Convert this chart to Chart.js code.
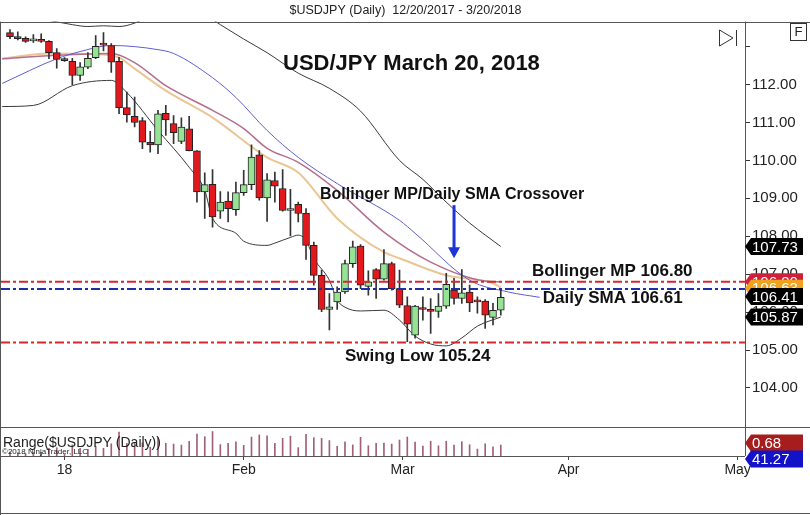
<!DOCTYPE html>
<html lang="en">
<head>
<meta charset="UTF-8">
<title>USD/JPY Daily</title>
<style>
  body { margin: 0; background: #fff; }
  #wrap { width: 810px; height: 515px; }
</style>
</head>
<body>
<div id="wrap"><canvas id="chart" width="810" height="515"></canvas></div>
<script src="https://cdn.jsdelivr.net/npm/chart.js@4"></script>
<script>
// one entry per trading day, 12/20/2017 (bar 0) to 3/20/2018 (bar 63)
const opens  = [113.37,113.26,113.22,113.15,113.15,113.14,112.84,112.68,112.61,112.24,112.46,112.71,113.07,113.03,112.61,111.39,
                111.16,111.05,110.48,110.41,111.24,110.97,110.50,110.83,110.25,109.17,109.37,108.66,108.93,108.70,109.15,109.36,
                110.15,109.01,109.47,109.26,108.68,108.84,108.61,107.76,106.97,106.07,106.27,106.53,107.28,107.74,106.68,107.12,
                106.87,107.28,106.62,106.17,105.39,106.12,106.07,106.02,106.16,106.58,106.36,106.53,106.28,106.29,105.86,106.05];
const highs  = [113.45,113.39,113.26,113.32,113.34,113.16,112.95,112.71,112.69,112.58,112.84,113.29,113.37,113.08,112.72,111.80,
                111.67,111.13,110.77,111.32,111.45,111.18,111.12,111.16,110.26,109.67,109.76,109.18,109.17,109.43,109.74,110.41,
                110.26,109.65,109.69,109.76,109.24,108.90,108.73,107.85,107.11,106.49,106.67,107.37,107.87,107.78,107.09,107.15,
                107.65,107.32,107.11,106.40,106.18,106.40,106.36,106.49,107.02,106.89,107.12,106.71,106.40,106.33,106.23,106.60];
const lows   = [113.21,113.18,113.11,113.11,113.11,112.68,112.43,112.61,112.00,112.11,112.42,112.68,112.89,112.32,111.23,111.01,
                110.88,110.31,110.22,110.18,110.66,110.44,110.44,110.25,108.90,108.47,108.24,108.47,108.38,108.55,109.08,109.23,
                108.95,108.39,108.90,108.66,108.01,108.38,107.39,106.71,106.01,105.53,106.07,106.49,107.18,106.62,106.45,106.36,
                106.84,106.58,106.12,105.22,105.31,105.79,105.44,105.86,106.10,106.21,106.23,106.01,105.97,105.57,105.66,105.92];
const closes = [113.26,113.21,113.14,113.20,113.14,112.84,112.66,112.63,112.24,112.47,112.69,113.01,113.04,112.59,111.39,111.20,
                111.00,110.48,110.41,111.23,111.07,110.73,110.88,110.26,109.17,109.36,108.51,108.90,108.73,109.15,109.36,110.09,
                109.01,109.49,109.32,108.68,108.73,108.60,107.76,106.97,106.07,106.14,106.53,107.28,107.72,106.71,106.80,106.87,
                107.28,106.62,106.18,105.68,106.16,106.07,106.02,106.16,106.73,106.36,106.51,106.24,106.27,105.92,106.05,106.39];

// indicator lines, read at sample bars
const upperBandBars = [-1, 8, 10, 12, 14, 16, 20, 24, 27, 30, 33, 37, 41, 45, 50, 53, 56, 59, 63];
const upperBand     = [113.95, 113.58, 113.53, 113.55, 113.53, 113.62, 114.0, 113.95, 113.58, 113.2, 112.84, 112.3, 111.9, 111.3, 110.0, 109.5, 108.9, 108.35, 107.73];
const lowerBandBars = [-1, 3, 8, 13, 15, 19, 23, 25, 26, 29, 30, 33, 34, 36, 37, 38, 39, 41, 42, 43, 45, 48, 50, 52, 54, 56, 58, 60, 63];
const lowerBand     = [111.42, 111.45, 111.97, 112.11, 111.79, 110.79, 109.82, 109.21, 108.47, 108.08, 107.87, 107.76, 107.82, 107.97, 108.03, 107.89, 107.42, 106.84, 106.32, 106.13, 106.03, 106.05, 105.79, 105.37, 105.16, 105.11, 105.32, 105.63, 105.87];
const mpBars        = [-1, 5, 13, 16, 20, 26, 30, 33, 37, 42, 48, 54, 61, 63];
const bollingerMid  = [112.68, 112.76, 112.82, 112.58, 111.97, 111.32, 110.84, 110.32, 109.95, 109.21, 108.11, 107.32, 106.82, 106.80];
const smaBars       = [-1, 5, 12, 14, 16, 20, 26, 33, 37, 42, 48, 50, 56, 62, 63];
const dailySma      = [112.68, 112.82, 112.79, 112.71, 112.42, 111.84, 111.13, 110.08, 109.68, 108.47, 107.58, 107.42, 106.97, 106.76, 106.65];
const blueBars      = [-1, 6, 9, 13, 19, 21, 26, 29, 33, 37, 42, 50, 52, 59, 64, 68];
const blueAvg       = [112.03, 112.68, 112.87, 113.03, 112.92, 112.82, 112.18, 111.66, 110.79, 110.08, 109.39, 108.42, 108.08, 106.84, 106.53, 106.39];

// horizontal levels
const bollingerMpLevel = 106.80;
const dailySmaLevel = 106.61;
const swingLowLevel = 105.20;

// axis labels and price tags
const monthTickBars = [7, 30, 50.4, 71.7, 93.4];
const monthLabels = ['18', 'Feb', 'Mar', 'Apr', 'May'];
const priceTicks = [104, 105, 106, 107, 108, 109, 110, 111, 112, 113];
const tagValues = [106.80, 106.63, 106.41, 105.87, 107.73];
const rangeTagValues = [0.68, 41.27];

const X_MIN = -1.155, X_MAX = 94.35;
const RED = '#e3181d', GREEN = '#96e396';

const bars = opens.map((_, i) => i);
const pts = (xs, ys) => xs.map((b, i) => ({ x: b, y: ys[i] }));
const level = v => [{ x: X_MIN, y: v }, { x: X_MAX, y: v }];

function lineSet(data, color, width, order) {
    return {
        type: 'line', data, borderColor: color, borderWidth: width, pointRadius: 0,
        cubicInterpolationMode: 'monotone', order, yAxisID: 'y'
    };
}
function levelSet(v, color) {
    return {
        type: 'line', data: level(v), borderColor: color, borderWidth: 2,
        borderDash: [9, 3, 3, 3], pointRadius: 0, order: 0, yAxisID: 'y'
    };
}

function tag(ctx, x, yc, text, bg, fg) {
    const h = 17, w = 58, n = 6;
    ctx.beginPath();
    ctx.moveTo(x, yc);
    ctx.lineTo(x + n, yc - h / 2);
    ctx.lineTo(x + w, yc - h / 2);
    ctx.lineTo(x + w, yc + h / 2);
    ctx.lineTo(x + n, yc + h / 2);
    ctx.closePath();
    ctx.fillStyle = bg;
    ctx.fill();
    ctx.fillStyle = fg;
    ctx.font = '15px Arial, "Liberation Sans"';
    ctx.textAlign = 'left';
    ctx.textBaseline = 'middle';
    ctx.fillText(text, x + n + 1, yc + 1);
}

const decor = {
    id: 'decor',
    afterDraw(chart) {
        const { ctx, chartArea: a, scales: { x, y, yR } } = chart;
        const W = chart.width, H = chart.height;
        ctx.save();

        // frame lines
        ctx.strokeStyle = '#555';
        ctx.lineWidth = 1;
        ctx.beginPath();
        ctx.moveTo(0, Math.round(a.top) + 0.5); ctx.lineTo(W, Math.round(a.top) + 0.5);
        ctx.moveTo(0, Math.round(yR.top) + 0.5); ctx.lineTo(W, Math.round(yR.top) + 0.5);
        ctx.moveTo(0, Math.round(a.bottom) + 0.5); ctx.lineTo(a.right, Math.round(a.bottom) + 0.5);
        ctx.moveTo(Math.round(a.right) + 0.5, a.top); ctx.lineTo(Math.round(a.right) + 0.5, a.bottom);
        ctx.moveTo(0.5, a.top); ctx.lineTo(0.5, H);
        ctx.moveTo(0, H - 1.5); ctx.lineTo(W, H - 1.5);
        ctx.stroke();

        // crossover arrow
        const ax = x.getPixelForValue(57);
        const y0 = y.getPixelForValue(108.82), y1 = y.getPixelForValue(107.42);
        ctx.strokeStyle = '#1a35d8';
        ctx.fillStyle = '#1a35d8';
        ctx.lineWidth = 3;
        ctx.beginPath();
        ctx.moveTo(ax, y0); ctx.lineTo(ax, y1 - 10);
        ctx.stroke();
        ctx.beginPath();
        ctx.moveTo(ax - 6, y1 - 11); ctx.lineTo(ax + 6, y1 - 11); ctx.lineTo(ax, y1);
        ctx.closePath();
        ctx.fill();

        // notes
        const notes = [
            ['USD/JPY March 20, 2018', 35.05, 112.55, 22],
            ['Bollinger MP/Daily SMA Crossover', 39.8, 109.11, 16],
            ['Bollinger MP 106.80', 67.0, 107.08, 17],
            ['Daily SMA 106.61', 68.4, 106.37, 17],
            ['Swing Low 105.24', 43.0, 104.84, 17]
        ];
        ctx.fillStyle = '#111';
        ctx.textAlign = 'left';
        ctx.textBaseline = 'middle';
        notes.forEach(([t, b, p, s]) => {
            ctx.font = 'bold ' + s + 'px Arial, "Liberation Sans"';
            ctx.fillText(t, x.getPixelForValue(b), y.getPixelForValue(p));
        });

        // price tags on the right axis
        const tagColors = [['#cf1f3a', '#fff'], ['#f0a11e', '#fff'], ['#000', '#fff'], ['#000', '#fff'], ['#000', '#fff']];
        tagValues.forEach((v, i) => tag(ctx, a.right, y.getPixelForValue(v), v.toFixed(2), tagColors[i][0], tagColors[i][1]));
        tag(ctx, a.right, yR.getPixelForValue(rangeTagValues[0]) - 2, rangeTagValues[0].toFixed(2), '#a51d1d', '#fff');
        tag(ctx, a.right, a.bottom + 3, rangeTagValues[1].toFixed(2), '#1212c8', '#fff');

        // range panel caption
        ctx.fillStyle = '#222';
        ctx.font = '14px Arial, "Liberation Sans"';
        ctx.fillText('Range($USDJPY (Daily))', 3, yR.top + 16);
        ctx.font = '8px Arial, "Liberation Sans"';
        ctx.fillText('\u00A92018 NinjaTrader, LLC', 2, yR.top + 25);

        // toolbar icons
        ctx.strokeStyle = '#333';
        ctx.lineWidth = 1;
        ctx.beginPath();
        ctx.moveTo(719.5, 30); ctx.lineTo(733, 38); ctx.lineTo(719.5, 46); ctx.closePath();
        ctx.moveTo(736.5, 30); ctx.lineTo(736.5, 46);
        ctx.stroke();
        ctx.strokeRect(790.5, 23.5, 16, 17);
        ctx.fillStyle = '#222';
        ctx.font = '13px Arial, "Liberation Sans"';
        ctx.textAlign = 'center';
        ctx.fillText('F', 798.5, 32.5);
        ctx.restore();
    }
};

new Chart(document.getElementById('chart'), {
    type: 'bar',
    data: {
        datasets: [
            levelSet(bollingerMpLevel, '#d8262b'),
            levelSet(dailySmaLevel, '#1c2fa8'),
            levelSet(swingLowLevel, '#d8262b'),
            {
                data: bars.map(i => ({ x: i, y: [opens[i], closes[i]] })),
                backgroundColor: bars.map(i => closes[i] >= opens[i] ? GREEN : RED),
                borderColor: '#222', borderWidth: 1, borderSkipped: false,
                barThickness: 7, minBarLength: 2, grouped: false, order: 1, yAxisID: 'y'
            },
            {
                data: bars.map(i => ({ x: i, y: [lows[i], highs[i]] })),
                backgroundColor: '#333', barThickness: 1, grouped: false, order: 2, yAxisID: 'y'
            },
            {
                data: bars.map(i => ({ x: i, y: +(highs[i] - lows[i]).toFixed(2) })),
                backgroundColor: '#a06078', barThickness: 1, grouped: false, order: 3, yAxisID: 'yR'
            },
            lineSet(pts(upperBandBars, upperBand), '#3a3a3a', 1, 4),
            lineSet(pts(lowerBandBars, lowerBand), '#3a3a3a', 1, 5),
            lineSet(pts(blueBars, blueAvg), '#5e5ed2', 1, 6),
            lineSet(pts(mpBars, bollingerMid), '#b46e8e', 1.5, 7),
            lineSet(pts(smaBars, dailySma), '#eac694', 2, 8)
        ]
    },
    options: {
        responsive: false,
        animation: false,
        layout: { padding: { left: 1, right: 0, top: 0, bottom: 0 } },
        plugins: {
            legend: { display: false },
            tooltip: { enabled: false },
            title: {
                display: true,
                text: '$USDJPY (Daily)  12/20/2017 - 3/20/2018',
                color: '#222',
                font: { family: 'Arial, "Liberation Sans"', size: 12.5, weight: 'normal' },
                padding: { top: 3, bottom: 3.6 }
            }
        },
        scales: {
            x: {
                type: 'linear', min: X_MIN, max: X_MAX, offset: false,
                border: { display: false },
                grid: { display: true, offset: false, drawOnChartArea: false, tickLength: 4, color: '#444' },
                ticks: {
                    autoSkip: false, maxRotation: 0, padding: 2, color: '#222',
                    font: { family: 'Arial, "Liberation Sans"', size: 14 },
                    callback: (v, i) => monthLabels[i]
                },
                afterBuildTicks: s => { s.ticks = monthTickBars.map(v => ({ value: v })); },
                afterFit: s => { s.height = 59; }
            },
            y: {
                position: 'right', stack: 'panes', stackWeight: 14,
                min: 102.97, max: 113.66,
                border: { display: false },
                grid: { display: true, offset: false, drawOnChartArea: false, tickLength: 5, color: '#333' },
                ticks: {
                    padding: 2, color: '#222',
                    font: { family: 'Arial, "Liberation Sans"', size: 15 },
                    callback: v => v === 113 ? '' : v.toFixed(2)
                },
                afterBuildTicks: s => { s.ticks = priceTicks.map(v => ({ value: v })); },
                afterFit: s => { s.width = 65; }
            },
            yR: {
                position: 'right', stack: 'panes', stackWeight: 1,
                min: 0, max: 1.8,
                border: { display: false },
                grid: { display: false },
                ticks: { display: false },
                afterFit: s => { s.width = 65; }
            }
        }
    },
    plugins: [decor]
});
</script>
</body>
</html>
